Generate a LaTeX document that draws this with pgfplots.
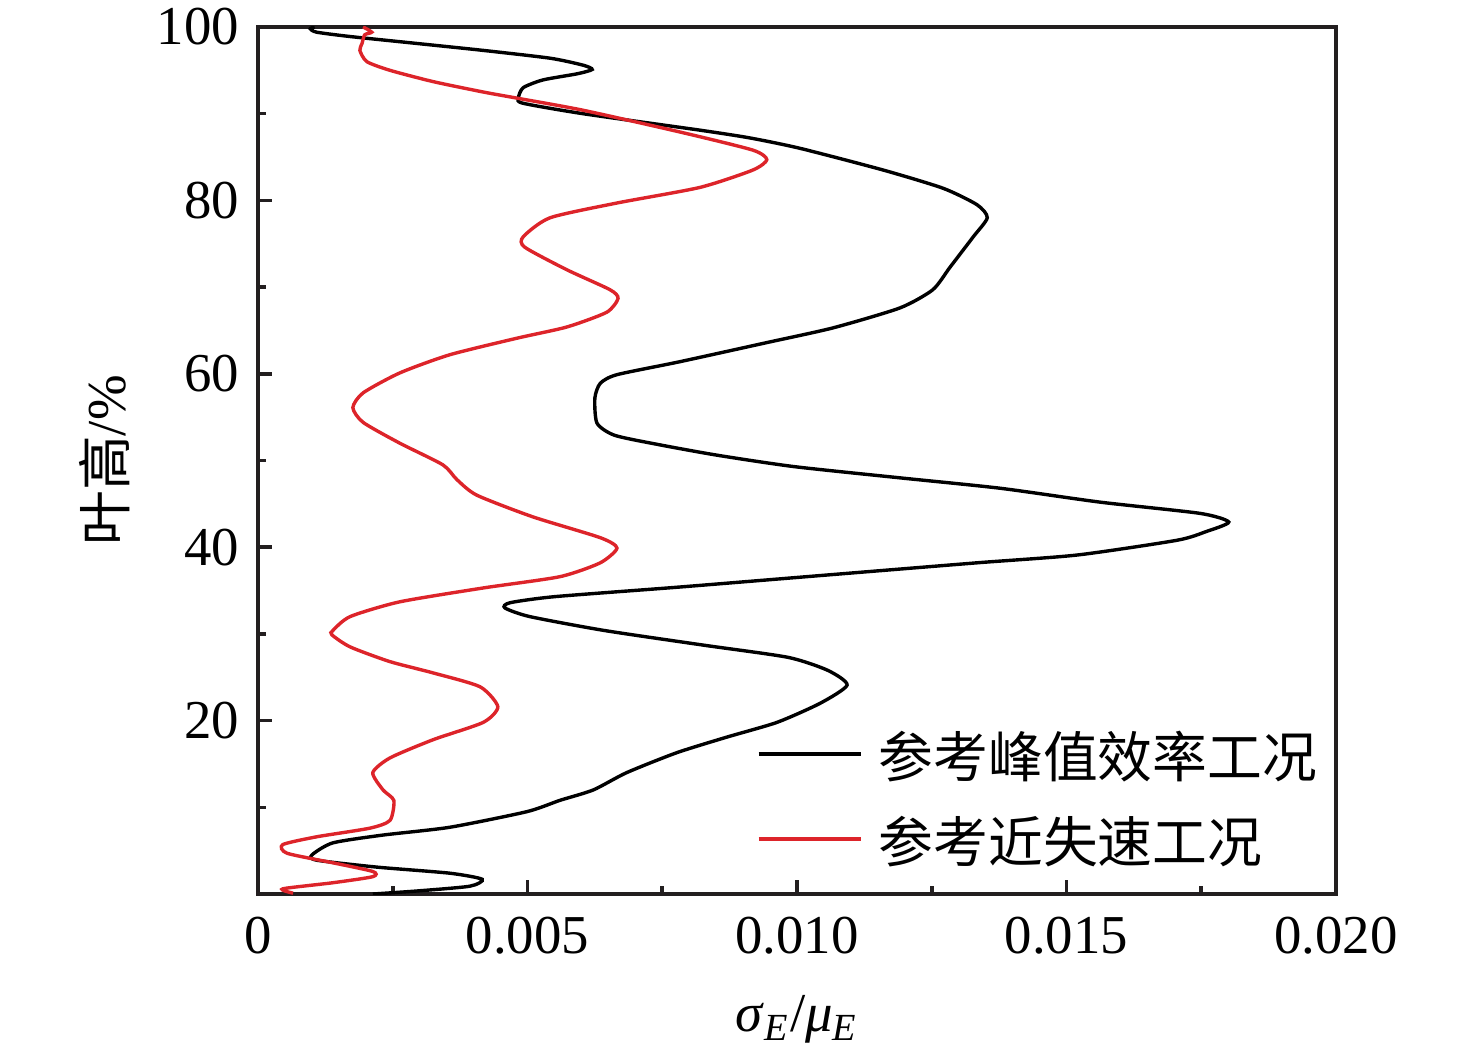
\documentclass[border=0pt]{standalone}
\usepackage{fontspec}
\setmainfont{Liberation Serif}
\newfontfamily\cjk{Noto Sans CJK SC}
\usepackage{pgfplots}
\pgfplotsset{compat=1.18}
\definecolor{myred}{RGB}{221,36,42}
\definecolor{axgray}{RGB}{35,31,32}

\pgfplotstableread{
x y
0.00213 0.0
0.00295 0.35
0.00393 0.9
0.00416 1.7
0.00356 2.4
0.00221 3.1
0.00109 3.9
0.00100 4.5
0.00139 5.9
0.00232 6.8
0.00356 7.7
0.00499 9.5
0.00560 10.8
0.00622 12.0
0.00684 14.0
0.00777 16.3
0.00870 18.1
0.00963 19.8
0.01043 22.0
0.01093 24.1
0.01057 25.8
0.00983 27.3
0.00827 28.7
0.00642 30.4
0.00504 32.0
0.00458 33.0
0.00468 33.6
0.00551 34.3
0.00781 35.4
0.01057 36.8
0.01334 38.2
0.01520 39.1
0.01705 40.8
0.01759 41.8
0.01801 42.9
0.01748 43.9
0.01562 45.2
0.01377 46.8
0.01191 48.0
0.00994 49.3
0.00853 50.6
0.00746 51.8
0.00662 52.9
0.00629 54.3
0.00625 57.2
0.00635 58.9
0.00666 59.9
0.00783 61.4
0.00944 63.6
0.01067 65.3
0.01191 67.6
0.01252 69.7
0.01284 72.3
0.01327 75.8
0.01353 78.0
0.01334 79.5
0.01271 81.4
0.01160 83.5
0.01006 86.0
0.00913 87.2
0.00820 88.1
0.00603 90.0
0.00492 91.2
0.00483 91.8
0.00492 93.0
0.00529 93.9
0.00592 94.6
0.00620 95.1
0.00603 95.6
0.00542 96.4
0.00418 97.3
0.00295 98.1
0.00171 98.9
0.00109 99.4
0.00097 99.8
0.00105 100
}\peak

\pgfplotstableread{
x y
0.00065 0.1
0.00046 0.6
0.00139 1.3
0.00213 2.0
0.00213 2.6
0.00139 3.6
0.00054 4.7
0.00046 5.7
0.00109 6.6
0.00208 7.6
0.00245 8.5
0.00252 10.8
0.00232 12.0
0.00213 14.0
0.00245 15.7
0.00325 17.8
0.00418 19.8
0.00445 21.6
0.00412 23.9
0.00325 25.5
0.00245 26.8
0.00171 28.5
0.00137 29.9
0.00139 30.4
0.00171 32.0
0.00263 33.7
0.00418 35.3
0.00560 36.6
0.00635 38.2
0.00666 39.9
0.00635 41.1
0.00510 43.5
0.00406 46.0
0.00369 47.8
0.00343 49.5
0.00263 52.0
0.00195 54.4
0.00176 56.1
0.00195 57.8
0.00263 60.1
0.00356 62.2
0.00480 64.1
0.00573 65.4
0.00647 67.1
0.00668 68.7
0.00653 69.7
0.00573 72.0
0.00495 74.6
0.00492 75.8
0.00542 78.0
0.00666 79.7
0.00820 81.5
0.00918 83.5
0.00944 84.7
0.00918 85.8
0.00789 87.8
0.00603 90.4
0.00480 91.8
0.00418 92.5
0.00325 93.7
0.00245 95.0
0.00202 96.0
0.00189 97.3
0.00193 98.1
0.00198 99.1
0.00211 99.4
0.00195 100
}\stall

\begin{document}
\fontsize{13.7}{16}\selectfont
\begin{tikzpicture}
\begin{axis}[
  name=ax,
  scale only axis,
  width=269.5pt, height=216.75pt,
  xmin=0, xmax=0.02, ymin=0, ymax=100,
  axis line style={axgray, line width=0.9pt},
  xtick={0,0.005,0.01,0.015,0.02},
  xticklabels={0,0.005,0.010,0.015,0.020},
  minor xtick={0.0025,0.0075,0.0125,0.0175},
  ytick={20,40,60,80,100},
  minor ytick={10,30,50,70,90},
  scaled ticks=false,
  tick align=inside,
  xtick pos=bottom, ytick pos=left,
  major tick length=3.5pt, minor tick length=2pt,
  tick style={axgray, line width=0.9pt},
  /pgf/number format/assume math mode=true,
  xticklabel style={yshift=-1pt},
  ylabel={{\cjk 叶高}/\%},
  xlabel={\textit{σ}\textsubscript{\textit{E}}/\textit{μ}\textsubscript{\textit{E}}},
  every axis y label/.style={at={(axis description cs:-0.142,0.5)}, rotate=90, anchor=center},
  every axis x label/.style={at={(axis description cs:0.5,-0.145)}, anchor=center},
  legend cell align=left,
  legend image code/.code={\draw[#1, line width=1pt] (0pt,0.75pt) -- (25.5pt,0.75pt);},
  legend style={draw=none, fill=none, inner sep=0pt,
    at={(axis description cs:0.4619,0.1903)}, anchor=north west,
    row sep=7.55pt, column sep=4pt,
    nodes={inner sep=0pt, text height=12pt, text depth=1.7pt}},
]
\addplot[black, line width=0.85pt, smooth, tension=0.4] table[x=x,y=y] {\peak};
\addlegendentry{\cjk 参考峰值效率工况}
\addplot[myred, line width=0.85pt, smooth, tension=0.4] table[x=x,y=y] {\stall};
\addlegendentry{\cjk 参考近失速工况}
\end{axis}
\pgfresetboundingbox
\path[use as bounding box] ([xshift=-64.5pt,yshift=-42pt]ax.south west) rectangle ([xshift=35pt,yshift=6.75pt]ax.north east);
\end{tikzpicture}
\end{document}
